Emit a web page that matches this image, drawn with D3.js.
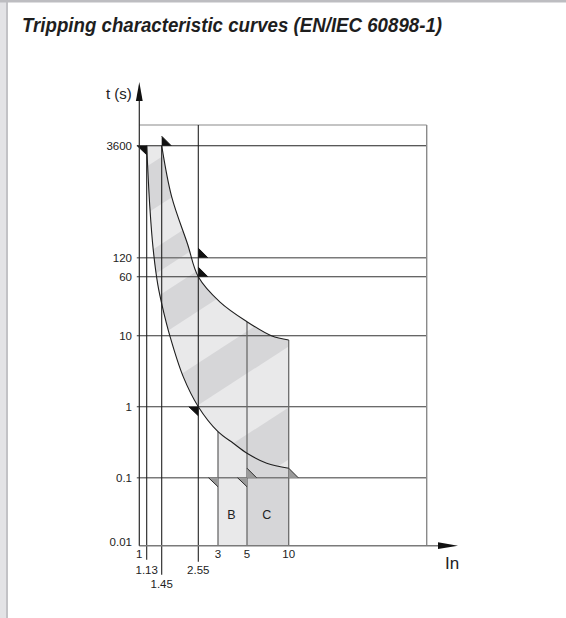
<!DOCTYPE html>
<html><head><meta charset="utf-8">
<script src="https://cdn.jsdelivr.net/npm/d3@7"></script>
<style>
html,body{margin:0;padding:0;background:#fff;}
svg{display:block;}
</style></head><body>
<svg id="chart" width="566" height="618"></svg>
<script>
// ---------- data ----------
const titleText = "Tripping characteristic curves (EN/IEC 60898-1)";
const yAxisLabel = "t (s)";
const xAxisLabel = "In";
const yTicks = [0.01, 0.1, 1, 10, 60, 120, 3600];
const yTickLabels = ["0.01", "0.1", "1", "10", "60", "120", "3600"];
const xTicksRow1 = [1, 3, 5, 10];
const xTicksRow1Labels = ["1", "3", "5", "10"];
const xTicksRow2 = [1.13, 2.55];
const xTicksRow2Labels = ["1.13", "2.55"];
const xTicksRow3 = [1.45];
const xTicksRow3Labels = ["1.45"];
// lower (non-tripping) boundary curve
const lowerIn = [1.13, 1.19, 1.26, 1.36, 1.457, 1.65, 2.02, 2.55, 3.0, 3.93, 5, 6.94, 10];
const lowerT  = [3600, 565, 152, 46.7, 25.4, 9.7, 2.65, 1, 0.445, 0.305, 0.221, 0.16, 0.136];
// upper (tripping) boundary curve
const upperIn = [1.45, 1.69, 2.16, 2.55, 3.11, 5, 7.5, 10];
const upperT  = [3600, 766, 182, 60, 27.8, 15.3, 10, 8.7];
// instantaneous tripping bands
const bandNames = ["B", "C"];
const bandFrom = [3, 5];
const bandTo = [5, 10];
// marker points (In, t) and their orientation
const markerIn   = [1.13, 1.45, 2.55, 2.55, 2.55, 3, 5, 5, 10];
const markerT    = [3600, 3600, 120, 60, 1, 0.1, 0.1, 0.1, 0.1];
const markerKind = ["ld", "ur", "ur", "ur", "ld", "ld", "ld", "ur", "ur"];
const markerTone = ["black", "black", "black", "black", "black", "gray", "gray", "gray", "gray"];

// ---------- scales (schematic, piecewise logarithmic) ----------
const x = d3.scaleLog()
  .domain([1, 1.13, 1.45, 2.55, 3, 5, 10, 100])
  .range([139.3, 146.7, 161.7, 198.3, 218, 247, 288.7, 426.7]);
const y = d3.scaleLog()
  .domain([0.01, 0.1, 1, 10, 60, 120, 3600])
  .range([545.7, 477.7, 406.7, 335.7, 276.7, 257.7, 145.7]);

const svg = d3.select("#chart");
const FONT = "'Liberation Sans Narrow','Liberation Sans',Arial,sans-serif";
const LIGHT = "#e9e9ea", DARK = "#d6d6d8";

// page frame
svg.append("rect").attr("x", 0).attr("y", 0).attr("width", 566).attr("height", 618).attr("fill", "#fff");
svg.append("rect").attr("x", 0).attr("y", 0).attr("width", 6).attr("height", 618).attr("fill", "#e3e3e6");
svg.append("rect").attr("x", 6).attr("y", 0).attr("width", 2).attr("height", 618).attr("fill", "#c2c2c6");
svg.append("rect").attr("x", 0).attr("y", 0).attr("width", 566).attr("height", 2.5).attr("fill", "#bdbdc1");

// title
svg.append("text").attr("x", 22).attr("y", 32)
  .attr("font-family", FONT).attr("font-weight", "bold").attr("font-style", "italic")
  .attr("font-size", 20).attr("fill", "#1e1e1e")
  .attr("textLength", 420).attr("lengthAdjust", "spacingAndGlyphs")
  .text(titleText);

const x0 = x(1), xR = x(100), yB = y(0.01), yTop = y(3600) - 20.7;

const lowerPts = lowerIn.map((v, i) => [v, lowerT[i]]);
const upperPts = upperIn.map((v, i) => [v, upperT[i]]);
const line = d3.line().x(d => x(d[0])).y(d => y(d[1])).curve(d3.curveCatmullRom.alpha(0.5));
const lowerPath = line(lowerPts);
const upperPath = line(upperPts);

const defs = svg.append("defs");
const bandD = upperPath + `L${x(10)},${yB}L${x(1.13)},${yB}L${x(1.13)},${y(3600)}Z`;
defs.append("clipPath").attr("id", "bandClip").append("path").attr("d", bandD);
const belowD = lowerPath + `L${x(10)},${yB}L${x(1.13)},${yB}Z`;
defs.append("clipPath").attr("id", "belowClip").append("path").attr("d", belowD);

// band fill + diagonal stripes
const gBand = svg.append("g").attr("clip-path", "url(#bandClip)");
gBand.append("path").attr("d", bandD).attr("fill", LIGHT);
const stripeRef = 180, stripeSlope = 0.65;
const darkStripes = [[145, 192], [232, 258], [282, 323], [375, 417], [478, 530]];
darkStripes.forEach(([a, b]) => {
  const xa = 120, xb = 320;
  const f = (c, xx) => c - stripeSlope * (xx - stripeRef);
  gBand.append("path")
    .attr("d", `M${xa},${f(a, xa)}L${xb},${f(a, xb)}L${xb},${f(b, xb)}L${xa},${f(b, xa)}Z`)
    .attr("fill", DARK);
});
// below lower curve: white, then B and C
const gBelow = svg.append("g").attr("clip-path", "url(#belowClip)");
gBelow.append("path").attr("d", belowD).attr("fill", "#fff");
bandNames.forEach((n, i) => {
  gBelow.append("rect")
    .attr("x", x(bandFrom[i])).attr("width", x(bandTo[i]) - x(bandFrom[i]))
    .attr("y", y(3600)).attr("height", yB - y(3600))
    .attr("fill", i === 0 ? LIGHT : DARK);
});

// ---------- grid lines ----------
const hStyle = {0.1: ["#7a7a7a", 1.4], 1: ["#3a3a3a", 1.1], 10: ["#333", 1.1], 60: ["#333", 1.1], 120: ["#7a7a7a", 1.4], 3600: ["#222", 1.1]};
yTicks.filter(t => t > 0.01).forEach(t => {
  svg.append("line").attr("x1", x0 - 2.5).attr("x2", xR).attr("y1", y(t)).attr("y2", y(t))
    .attr("stroke", hStyle[t][0]).attr("stroke-width", hStyle[t][1]);
});
svg.append("line").attr("x1", x0).attr("x2", xR).attr("y1", yTop).attr("y2", yTop)
  .attr("stroke", "#8a8a8a").attr("stroke-width", 1.2);
svg.append("line").attr("x1", xR).attr("x2", xR).attr("y1", yTop).attr("y2", yB)
  .attr("stroke", "#8a8a8a").attr("stroke-width", 1.4);

// vertical reference lines
const tAt = (ins, ts, v) => ts[ins.indexOf(v)];
[[3, y(tAt(lowerIn, lowerT, 3))], [5, y(tAt(upperIn, upperT, 5))], [10, y(tAt(upperIn, upperT, 10))]]
  .forEach(([v, yt]) => {
    svg.append("line").attr("x1", x(v)).attr("x2", x(v)).attr("y1", yt).attr("y2", yB)
      .attr("stroke", "#6a6a6a").attr("stroke-width", 1.3);
  });
svg.append("line").attr("x1", x(1.13)).attr("x2", x(1.13)).attr("y1", y(3600)).attr("y2", yB + 14)
  .attr("stroke", "#222").attr("stroke-width", 1.1);
svg.append("line").attr("x1", x(1.45)).attr("x2", x(1.45)).attr("y1", y(3600)).attr("y2", yB + 29)
  .attr("stroke", "#222").attr("stroke-width", 1.1);
svg.append("line").attr("x1", x(2.55)).attr("x2", x(2.55)).attr("y1", yTop).attr("y2", yB + 16)
  .attr("stroke", "#222").attr("stroke-width", 1.1);

// curves
svg.append("path").attr("d", lowerPath).attr("fill", "none").attr("stroke", "#1e1e1e").attr("stroke-width", 1.1);
svg.append("path").attr("d", upperPath).attr("fill", "none").attr("stroke", "#1e1e1e").attr("stroke-width", 1.1);

// markers
const S = 9.5;
markerIn.forEach((v, i) => {
  const px = x(v), py = y(markerT[i]);
  let pts, hyp;
  if (markerKind[i] === "ld") {
    pts = [[px - S, py], [px, py], [px, py + S * 0.95]];
    hyp = [[px - S, py], [px, py + S * 0.95]];
  } else {
    pts = [[px, py - S], [px, py], [px + S, py]];
    hyp = [[px, py - S], [px + S, py]];
  }
  const black = markerTone[i] === "black";
  svg.append("path").attr("d", "M" + pts.join("L") + "Z")
    .attr("fill", black ? "#111" : "#9b9b9b");
  svg.append("path").attr("d", "M" + hyp.join("L"))
    .attr("stroke", black ? "#111" : "#2a2a2a").attr("stroke-width", 1).attr("fill", "none");
});

// ---------- axes ----------
svg.append("line").attr("x1", x0).attr("x2", 440).attr("y1", yB).attr("y2", yB)
  .attr("stroke", "#7a7a7a").attr("stroke-width", 1.4);
svg.append("path").attr("d", `M438,${yB - 3.4}L458,${yB}L438,${yB + 3.4}Z`).attr("fill", "#111");
svg.append("line").attr("x1", x0).attr("x2", x0).attr("y1", 98).attr("y2", yB)
  .attr("stroke", "#2a2a2a").attr("stroke-width", 1.2);
svg.append("path").attr("d", `M${x0},82L${x0 + 3.4},101L${x0 - 3.4},101Z`).attr("fill", "#111");

svg.append("text").attr("x", 106).attr("y", 98.5).attr("font-family", "'Liberation Sans',Arial,sans-serif")
  .attr("font-size", 15).attr("fill", "#222").text(yAxisLabel);
svg.append("text").attr("x", 445).attr("y", 568.5).attr("font-family", FONT)
  .attr("font-size", 17).attr("fill", "#222").text(xAxisLabel);

// tick labels
yTicks.forEach((t, i) => {
  svg.append("text").attr("x", 132).attr("y", y(t) + (t === 0.01 ? 0 : 4))
    .attr("text-anchor", "end").attr("font-family", FONT).attr("font-size", 11.5).attr("fill", "#222")
    .text(yTickLabels[i]);
});
const xRow = (vals, labels, base) => vals.forEach((v, i) => {
  svg.append("text").attr("x", x(v)).attr("y", base).attr("text-anchor", "middle")
    .attr("font-family", FONT).attr("font-size", 11.5).attr("fill", "#222").text(labels[i]);
});
xRow(xTicksRow1, xTicksRow1Labels, 557.5);
xRow(xTicksRow2, xTicksRow2Labels, 573.5);
xRow(xTicksRow3, xTicksRow3Labels, 588);

// band labels
bandNames.forEach((n, i) => {
  svg.append("text").attr("x", (x(bandFrom[i]) + x(bandTo[i])) / 2 - 1)
    .attr("y", 518.5).attr("text-anchor", "middle")
    .attr("font-family", "'Liberation Sans',Arial,sans-serif").attr("font-size", 12.5).attr("fill", "#222").text(n);
});
</script>
</body></html>
